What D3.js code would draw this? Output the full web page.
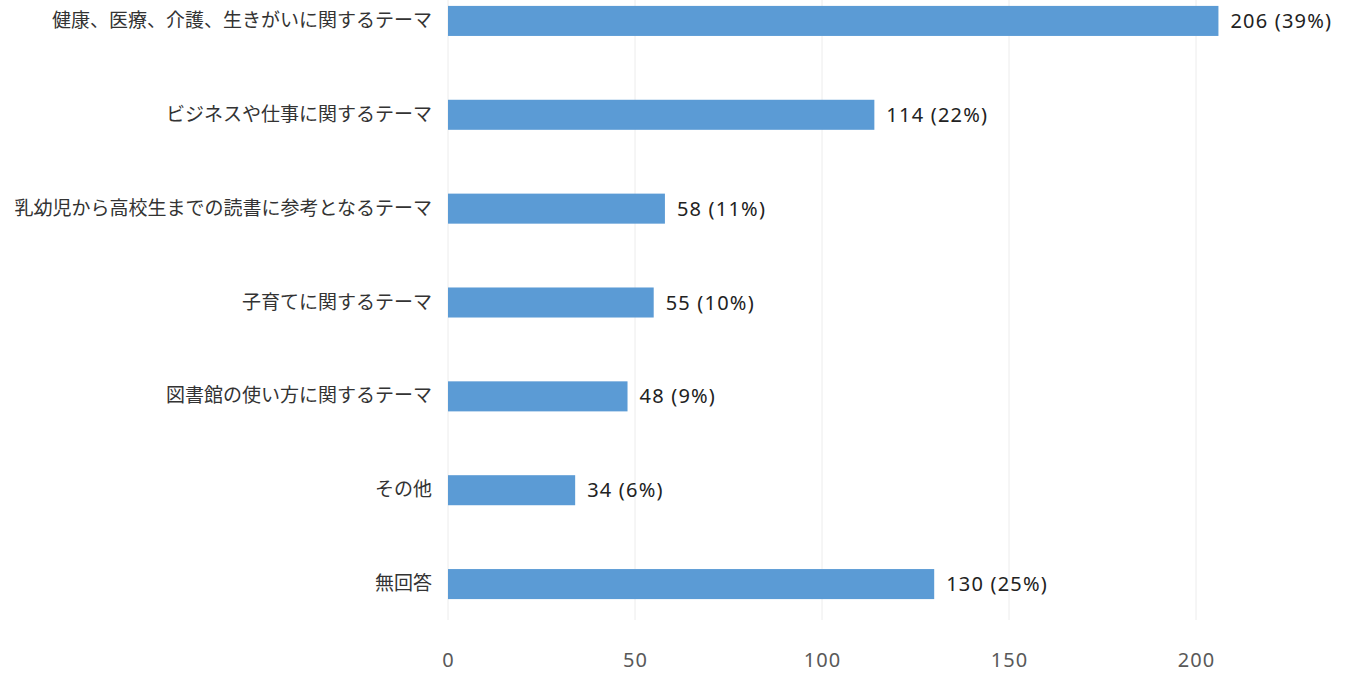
<!DOCTYPE html>
<html>
<head>
<meta charset="utf-8">
<script src="https://cdn.jsdelivr.net/npm/d3@7"></script>
<style>
  body { margin: 0; background: #fff; }
</style>
</head>
<body>
<div id="chart"></div>
<script>
// Data
const categories = [
  '健康、医療、介護、生きがいに関するテーマ',
  'ビジネスや仕事に関するテーマ',
  '乳幼児から高校生までの読書に参考となるテーマ',
  '子育てに関するテーマ',
  '図書館の使い方に関するテーマ',
  'その他',
  '無回答'
];
const counts = [206, 114, 58, 55, 48, 34, 130];
const percents = [39, 22, 11, 10, 9, 6, 25];
const xTicks = [0, 50, 100, 150, 200];

const width = 1350;
const height = 675;

const svg = d3
  .select('#chart')
  .append('svg')
  .attr('width', width)
  .attr('height', height);

// Scales
const xScale = d3.scaleLinear().domain([0, 200]).range([448, 1196]);

const yScale = d3
  .scaleBand()
  .domain(categories)
  .range([-26, 631])
  .paddingInner(0.68)
  .paddingOuter(0.34);

// Gridlines
svg
  .append('g')
  .selectAll('line')
  .data(xTicks)
  .enter()
  .append('line')
  .attr('x1', (d) => xScale(d))
  .attr('x2', (d) => xScale(d))
  .attr('y1', 0)
  .attr('y2', 620)
  .attr('stroke', '#ececec')
  .attr('stroke-width', 1);

// X axis (labels only)
const xAxis = d3.axisBottom(xScale).tickValues(xTicks).tickSize(0).tickPadding(0);
const gx = svg.append('g').attr('transform', 'translate(0,653)').call(xAxis);
gx.select('.domain').remove();
gx.selectAll('text')
  .attr('font-family', '"Noto Sans", sans-serif')
  .attr('font-size', 20)
  .attr('letter-spacing', 1)
  .attr('fill', '#595959');

// Category labels
const yAxis = d3.axisLeft(yScale).tickSize(0).tickPadding(0);
const gy = svg.append('g').attr('transform', 'translate(432,0)').call(yAxis);
gy.select('.domain').remove();
gy.selectAll('text')
  .attr('font-family', '"Noto Sans CJK JP", sans-serif')
  .attr('font-size', 19)
  .attr('fill', '#333');

// Bars
svg
  .selectAll('.bar')
  .data(counts)
  .enter()
  .append('rect')
  .attr('class', 'bar')
  .attr('x', xScale(0))
  .attr('y', (d, i) => yScale(categories[i]))
  .attr('width', (d) => xScale(d) - xScale(0))
  .attr('height', yScale.bandwidth())
  .attr('fill', '#5b9bd5');

// Value labels
svg
  .selectAll('.val')
  .data(counts)
  .enter()
  .append('text')
  .attr('class', 'val')
  .attr('x', (d) => xScale(d) + 12)
  .attr('y', (d, i) => yScale(categories[i]) + yScale.bandwidth() / 2)
  .attr('dy', '0.35em')
  .attr('font-family', '"Noto Sans", sans-serif')
  .attr('font-size', 20)
  .attr('letter-spacing', 1.2)
  .attr('fill', '#222')
  .text((d, i) => `${d} (${percents[i]}%)`);
</script>
</body>
</html>
